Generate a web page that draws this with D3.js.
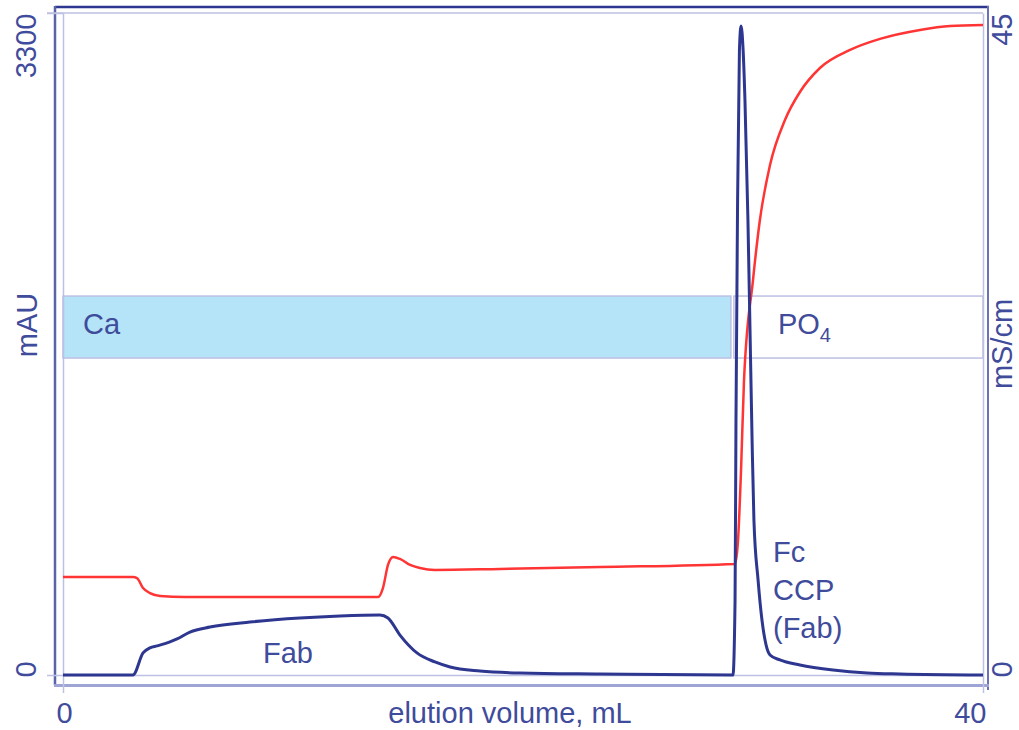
<!DOCTYPE html>
<html>
<head>
<meta charset="utf-8">
<script src="https://cdn.jsdelivr.net/npm/d3@7"></script>
<style>
  html, body { margin: 0; padding: 0; background: #fff; }
  svg { display: block; }
  text { font-family: "Liberation Sans", Arial, Helvetica, sans-serif; fill: #3f4b9b; }
</style>
</head>
<body>
<svg id="chart" width="1019" height="730"></svg>
<script>
// UV absorbance trace (mAU) against elution volume (mL)
const uvVolume = [0, 3.04, 3.48, 3.78, 4.09, 4.65, 4.96, 5.52, 6.39, 8.13, 10.3, 12.04, 13.78,
  14.13, 14.65, 15.39, 16.17, 16.83, 18.13, 19.87, 23.35, 29.13,
  29.22, 29.26, 29.33, 29.41, 29.48, 29.57, 29.65, 29.78, 29.87, 29.96, 30.04, 30.22, 30.39, 30.57, 30.74, 31.17,
  32.04, 33.48, 34.96, 36.39, 40];
const uvValue = [0, 0, 110, 135, 145, 165, 180, 214, 239, 264, 284, 294, 299,
  284, 199, 110, 65, 40, 20, 10, 5, 0,
  374, 1271, 2368, 3116, 3235, 3116, 2866, 2268, 1720, 1172, 773, 474, 274, 149, 100, 75,
  50, 25, 10, 5, 0];

// Conductivity trace (mS/cm) against elution volume (mL)
const condVolume = [0, 3.04, 3.22, 3.48, 3.78, 4.22, 5.3, 13.7, 13.91, 14.13, 14.35, 14.65, 15.09, 15.52,
  16.17, 19.0, 23.35, 29.22, 29.35, 29.48, 29.61, 30.0, 30.3, 30.74, 31.39, 32.04, 32.91, 34.22,
  35.52, 37.26, 38.57, 40];
const condValue = [6.66, 6.66, 6.59, 5.91, 5.57, 5.37, 5.30, 5.30, 5.91, 7.48, 8.02, 7.89, 7.48, 7.27,
  7.14, 7.21, 7.34, 7.55, 9.18, 13.94, 20.05, 26.85, 30.93, 34.67, 37.73, 39.63, 41.26, 42.49,
  43.24, 43.85, 44.12, 44.19];

// Buffer phases shown as a band (volume range, mAU range)
const bufferNames = ["Ca", "PO4"];
const bufferStart = [0, 29.17];
const bufferEnd = [29.04, 40];
const bandLow = 1580;
const bandHigh = 1889;

// Axis ticks
const xTicks = [0, 40];
const uvTicks = [0, 3300];
const condTicks = [0, 45];

const svg = d3.select("#chart");
const navy = "#2e3790";
const lavender = "#bcc0e2";
const textColor = "#3f4b9b";

const x = d3.scaleLinear().domain([0, 40]).range([63, 983]);
const yUV = d3.scaleLinear().domain([0, 3300]).range([675, 13]);
const yCond = d3.scaleLinear().domain([0, 45]).range([675, 13]);

// Buffer band
const bandFill = ["#b5e3f7", "#ffffff"];
bufferNames.forEach((name, i) => {
  svg.append("rect")
    .attr("x", x(bufferStart[i]))
    .attr("y", yUV(bandHigh))
    .attr("width", x(bufferEnd[i]) - x(bufferStart[i]))
    .attr("height", yUV(bandLow) - yUV(bandHigh))
    .attr("fill", bandFill[i])
    .attr("stroke", lavender)
    .attr("stroke-width", 1.5);
});

// Frame
const frame = svg.append("g").attr("fill", "none");
frame.append("line").attr("x1", 55).attr("x2", 989).attr("y1", 7).attr("y2", 7)
  .attr("stroke", navy).attr("stroke-width", 2.5);
frame.append("line").attr("x1", 55).attr("x2", 55).attr("y1", 6).attr("y2", 685)
  .attr("stroke", "#5a63aa").attr("stroke-width", 2.5);
frame.append("line").attr("x1", 988).attr("x2", 988).attr("y1", 6).attr("y2", 690)
  .attr("stroke", "#6b73b6").attr("stroke-width", 2);
frame.append("line").attr("x1", 54).attr("x2", 989).attr("y1", 685.5).attr("y2", 685.5)
  .attr("stroke", "#9ea4d3").attr("stroke-width", 3);

// Axes
function styleAxis(g) {
  g.selectAll("path.domain").attr("stroke", lavender).attr("stroke-width", 1.5);
  g.selectAll(".tick line").attr("stroke", lavender).attr("stroke-width", 1.5);
  g.selectAll("text").style("font-size", "29px").attr("fill", textColor)
    .style("font-family", "'Liberation Sans', Arial, sans-serif");
}

const xAxis = svg.append("g")
  .attr("transform", "translate(0,675)")
  .call(d3.axisBottom(x).tickValues(xTicks).tickSize(18).tickSizeOuter(0).tickFormat(d3.format("d")));
styleAxis(xAxis);
xAxis.selectAll(".tick text").attr("y", 48).attr("dy", 0)
  .attr("text-anchor", (d, i) => i === xTicks.length - 1 ? "end" : "middle")
  .attr("dx", (d, i) => i === xTicks.length - 1 ? 3 : 1);

// Vertical tick labels sit inside the axis range: lowest one reads up from its tick,
// highest one ends at its tick.
function rotateLabels(g, baselineX) {
  g.selectAll(".tick text")
    .attr("x", null).attr("dy", null)
    .attr("text-anchor", (d, i, n) => i === n.length - 1 ? "end" : "start")
    .attr("transform", (d, i, n) => i === n.length - 1
      ? `translate(${baselineX},0) rotate(-90)`
      : `translate(${baselineX},2) rotate(-90)`);
}

const yAxisL = svg.append("g")
  .attr("transform", "translate(63,0)")
  .call(d3.axisLeft(yUV).tickValues(uvTicks).tickSize(16).tickSizeOuter(0).tickFormat(d3.format("d")));
styleAxis(yAxisL);
rotateLabels(yAxisL, -27);

const yAxisR = svg.append("g")
  .attr("transform", "translate(983,0)")
  .call(d3.axisRight(yCond).tickValues(condTicks).tickSize(0).tickSizeOuter(0).tickFormat(d3.format("d")));
styleAxis(yAxisR);
rotateLabels(yAxisR, 29);

// Top grid line at full scale
svg.append("line").attr("x1", 47).attr("x2", 983).attr("y1", yUV(3300)).attr("y2", yUV(3300))
  .attr("stroke", lavender).attr("stroke-width", 1.5);

// Axis titles
svg.append("text").attr("transform", "translate(37,325) rotate(-90)")
  .attr("text-anchor", "middle").style("font-size", "29px").text("mAU");
svg.append("text").attr("transform", "translate(1012,344) rotate(-90)")
  .attr("text-anchor", "middle").style("font-size", "29px").text("mS/cm");
svg.append("text").attr("x", 510).attr("y", 723)
  .attr("text-anchor", "middle").style("font-size", "29px").text("elution volume, mL");

// Traces
const condLine = d3.line().x((d, i) => x(condVolume[i])).y(d => yCond(d)).curve(d3.curveMonotoneX);
const uvLine = d3.line().x((d, i) => x(uvVolume[i])).y(d => yUV(d)).curve(d3.curveMonotoneX);

svg.append("path").datum(condValue).attr("d", condLine)
  .attr("fill", "none").attr("stroke", "#ff3434").attr("stroke-width", 2.5)
  .attr("stroke-linejoin", "round");
svg.append("path").datum(uvValue).attr("d", uvLine)
  .attr("fill", "none").attr("stroke", navy).attr("stroke-width", 3)
  .attr("stroke-linejoin", "round");

// Buffer labels
svg.append("text").attr("x", x(bufferStart[0]) + 20).attr("y", 334)
  .style("font-size", "29px").text(bufferNames[0]);
const po = svg.append("text").attr("x", x(bufferStart[1]) + 44).attr("y", 334)
  .style("font-size", "29px");
po.append("tspan").text("PO");
po.append("tspan").attr("dy", 8).style("font-size", "20px").text("4");

// Peak labels
svg.append("text").attr("x", 263).attr("y", 663).style("font-size", "29px").text("Fab");
const peakLabel = svg.append("text").style("font-size", "29px");
["Fc", "CCP", "(Fab)"].forEach((t, i) => {
  peakLabel.append("tspan").attr("x", 773).attr("y", 562 + i * 38).text(t);
});
</script>
</body>
</html>
